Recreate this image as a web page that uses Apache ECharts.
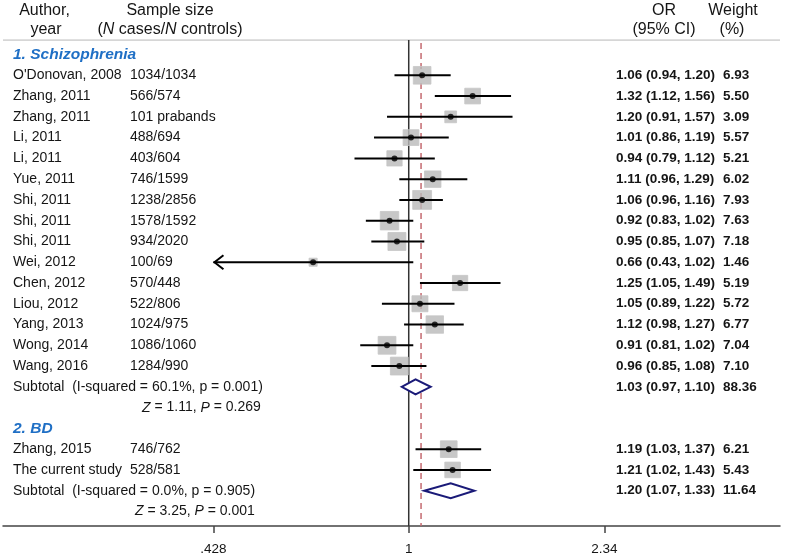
<!DOCTYPE html>
<html>
<head>
<meta charset="utf-8">
<script src="https://cdn.jsdelivr.net/npm/echarts@6/dist/echarts.min.js"></script>
<style>html,body{margin:0;padding:0;background:#fff}#c{width:787px;height:557px}</style>
</head>
<body>
<div id="c"></div>
<script>
// ---- data ----
const studyAuthors = ["O'Donovan, 2008","Zhang, 2011","Zhang, 2011","Li, 2011","Li, 2011","Yue, 2011","Shi, 2011","Shi, 2011","Shi, 2011","Wei, 2012","Chen, 2012","Liou, 2012","Yang, 2013","Wong, 2014","Wang, 2016","Zhang, 2015","The current study"];
const studySamples = ["1034/1034","566/574","101 prabands","488/694","403/604","746/1599","1238/2856","1578/1592","934/2020","100/69","570/448","522/806","1024/975","1086/1060","1284/990","746/762","528/581"];
const studyRows = [1,2,3,4,5,6,7,8,9,10,11,12,13,14,15,19,20];
const studyOR = [1.06,1.32,1.20,1.01,0.94,1.11,1.06,0.92,0.95,0.66,1.25,1.05,1.12,0.91,0.96,1.19,1.21];
const studyLo = [0.94,1.12,0.91,0.86,0.79,0.96,0.96,0.83,0.85,0.427,1.05,0.89,0.98,0.81,0.85,1.03,1.02];
const studyHi = [1.20,1.56,1.57,1.19,1.12,1.29,1.16,1.02,1.07,1.02,1.49,1.22,1.27,1.02,1.08,1.37,1.43];
const studyORText = ["1.06 (0.94, 1.20)","1.32 (1.12, 1.56)","1.20 (0.91, 1.57)","1.01 (0.86, 1.19)","0.94 (0.79, 1.12)","1.11 (0.96, 1.29)","1.06 (0.96, 1.16)","0.92 (0.83, 1.02)","0.95 (0.85, 1.07)","0.66 (0.43, 1.02)","1.25 (1.05, 1.49)","1.05 (0.89, 1.22)","1.12 (0.98, 1.27)","0.91 (0.81, 1.02)","0.96 (0.85, 1.08)","1.19 (1.03, 1.37)","1.21 (1.02, 1.43)"];
const studyWeight = [6.93,5.50,3.09,5.57,5.21,6.02,7.93,7.63,7.18,1.46,5.19,5.72,6.77,7.04,7.10,6.21,5.43];

const subLabels = ["Subtotal  (I-squared = 60.1%, p = 0.001)","Subtotal  (I-squared = 0.0%, p = 0.905)"];
const subRows = [16,21];
const subOR = [1.03,1.20];
const subLo = [0.97,1.07];
const subHi = [1.10,1.33];
const subORText = ["1.03 (0.97, 1.10)","1.20 (1.07, 1.33)"];
const subWeight = ["88.36","11.64"];
const zTexts = ["{i|Z} = 1.11, {i|P} = 0.269","{i|Z} = 3.25, {i|P} = 0.001"];
const zRows = [17,22];

const groupLabels = ["1. Schizophrenia","2. BD"];
const groupRows = [0,18];

const overallOR = 1.055;
const tickValues = [0.428,1,2.34];
const tickLabels = [".428","1","2.34"];
const arrowLimit = 0.428;
const xMin = 0.1715, xMax = 5.02, yMin = -0.7, yMax = 22.7;

// ---- layout constants ----
const FONT = "'Liberation Sans', Arial, sans-serif";
const INK = '#151515';
const COL_AUTHOR = 13, COL_SAMPLE = 130, COL_OR = 616, COL_W = 723;

// text rows
const textRows = [];
groupRows.forEach((r,i)=>textRows.push({row:r, kind:'group', a:groupLabels[i]}));
studyRows.forEach((r,i)=>textRows.push({row:r, kind:'study', a:studyAuthors[i], s:studySamples[i], o:studyORText[i], w:studyWeight[i].toFixed(2)}));
subRows.forEach((r,i)=>textRows.push({row:r, kind:'sub', a:subLabels[i], o:subORText[i], w:subWeight[i]}));
const zX = [142,135];
zRows.forEach((r,i)=>textRows.push({row:r, kind:'z', a:zTexts[i], zx:zX[i]}));

const chart = echarts.init(document.getElementById('c'), null, {renderer:'canvas'});

function txt(x,y,text,extra){
  return {type:'text', x:x, y:y, style:Object.assign({text:text, fontFamily:FONT, fontSize:14, fill:INK, align:'left', verticalAlign:'middle'}, extra||{})};
}

const option = {
  animation:false,
  backgroundColor:'#fff',
  grid:{left:3,right:7,top:40,bottom:31,containLabel:false},
  xAxis:{
    type:'log', logBase:10, min:xMin, max:xMax, position:'bottom',
    axisLine:{show:true, onZero:false, lineStyle:{color:'#444', width:1.5}},
    axisTick:{show:true, customValues:tickValues, length:7, lineStyle:{color:'#444', width:1.5}},
    axisLabel:{show:true, customValues:tickValues, margin:16, fontSize:13.5, fontFamily:FONT, color:INK,
      formatter:function(v){ for(let i=0;i<tickValues.length;i++){ if(Math.abs(v-tickValues[i])<1e-6) return tickLabels[i]; } return ''; }},
    splitLine:{show:false}, minorTick:{show:false}, minorSplitLine:{show:false}
  },
  yAxis:{type:'value', inverse:true, min:yMin, max:yMax, show:false},
  graphic:[
    txt(44.5,11,'Author,',{fontSize:16, align:'center'}),
    txt(46,30,'year',{fontSize:16, align:'center'}),
    txt(170,11,'Sample size',{fontSize:16, align:'center'}),
    txt(170,30,'({i|N} cases/{i|N} controls)',{fontSize:16, align:'center', rich:{i:{fontStyle:'italic', fontSize:16, fontFamily:FONT, fill:INK}}}),
    txt(664,11,'OR',{fontSize:16, align:'center'}),
    txt(664,30,'(95% CI)',{fontSize:16, align:'center'}),
    txt(733,11,'Weight',{fontSize:16, align:'center'}),
    txt(732,30,'(%)',{fontSize:16, align:'center'})
  ],
  series:[
    { // header separator
      type:'line', data:[[xMin,yMin],[xMax,yMin]], symbol:'none', silent:true,
      lineStyle:{color:'#c8c8c8', width:1.5}, z:1
    },
    { // null line
      type:'line', data:[[1,yMin],[1,yMax]], symbol:'none', silent:true,
      lineStyle:{color:'#333', width:1.5}, z:2
    },
    { // overall dashed line
      type:'line', data:[[overallOR,-0.55],[overallOR,yMax]], symbol:'none', silent:true,
      lineStyle:{color:'#c46a70', width:1.5, type:[6,4]}, z:2
    },
    { // weight boxes
      type:'scatter', symbol:'rect',
      data:studyRows.map((r,i)=>[studyOR[i], r, studyWeight[i]]),
      symbolSize:function(v){ return 6.7*Math.sqrt(v[2]); },
      itemStyle:{color:'#b9b9b9', borderColor:'#c6c6c6', borderWidth:1}, z:3, silent:true
    },
    { // CI lines
      type:'custom', z:4, silent:true,
      encode:{x:[0,1], y:2},
      data:studyRows.map((r,i)=>[studyLo[i], studyHi[i], r]),
      renderItem:function(params, api){
        const lo=api.value(0), hi=api.value(1), r=api.value(2);
        const p1=api.coord([Math.max(lo, arrowLimit), r]);
        const p2=api.coord([hi, r]);
        const ch=[{type:'line', shape:{x1:p1[0], y1:p1[1], x2:p2[0], y2:p2[1]}, style:{stroke:'#000', lineWidth:2}}];
        if(lo < arrowLimit){
          ch.push({type:'polyline', shape:{points:[[p1[0]+10,p1[1]-7],[p1[0]+1,p1[1]],[p1[0]+10,p1[1]+7]]}, style:{stroke:'#000', lineWidth:2, fill:null}});
        }
        return {type:'group', children:ch};
      }
    },
    { // point estimates
      type:'scatter', symbol:'circle', symbolSize:6,
      data:studyRows.map((r,i)=>[studyOR[i], r]),
      itemStyle:{color:'#000'}, z:5, silent:true
    },
    { // subtotal diamonds
      type:'custom', z:5, silent:true,
      encode:{x:[0,1,2], y:3},
      data:subRows.map((r,i)=>[subLo[i], subOR[i], subHi[i], r]),
      renderItem:function(params, api){
        const r=api.value(3);
        const a=api.coord([api.value(0), r]), m=api.coord([api.value(1), r]), b=api.coord([api.value(2), r]);
        const h=7.5;
        return {type:'polygon', shape:{points:[[a[0],a[1]],[m[0],m[1]-h],[b[0],b[1]],[m[0],m[1]+h]]},
          style:{fill:'#fff', stroke:'#1a1a78', lineWidth:2}};
      }
    },
    { // text columns
      type:'custom', z:6, silent:true, clip:false,
      encode:{x:0, y:1},
      data:textRows.map((t,i)=>[1, t.row, i]),
      renderItem:function(params, api){
        const t=textRows[api.value(2)];
        const y=api.coord([1, t.row])[1];
        const ch=[];
        if(t.kind==='group'){
          ch.push(txt(COL_AUTHOR, y, t.a, {fontSize:15.5, fontWeight:'bold', fontStyle:'italic', fill:'#1f6fc5'}));
        } else if(t.kind==='study'){
          ch.push(txt(COL_AUTHOR, y, t.a));
          ch.push(txt(COL_SAMPLE, y, t.s));
          ch.push(txt(COL_OR, y, t.o, {fontSize:13.5, fontWeight:'bold'}));
          ch.push(txt(COL_W, y, t.w, {fontSize:13.5, fontWeight:'bold'}));
        } else if(t.kind==='sub'){
          ch.push(txt(COL_AUTHOR, y, t.a));
          ch.push(txt(COL_OR, y, t.o, {fontSize:13.5, fontWeight:'bold'}));
          ch.push(txt(COL_W, y, t.w, {fontSize:13.5, fontWeight:'bold'}));
        } else {
          ch.push(txt(t.zx, y, t.a, {rich:{i:{fontStyle:'italic', fontSize:14, fontFamily:FONT, fill:INK}}}));
        }
        return {type:'group', children:ch};
      }
    }
  ]
};
chart.setOption(option);
</script>
</body>
</html>
